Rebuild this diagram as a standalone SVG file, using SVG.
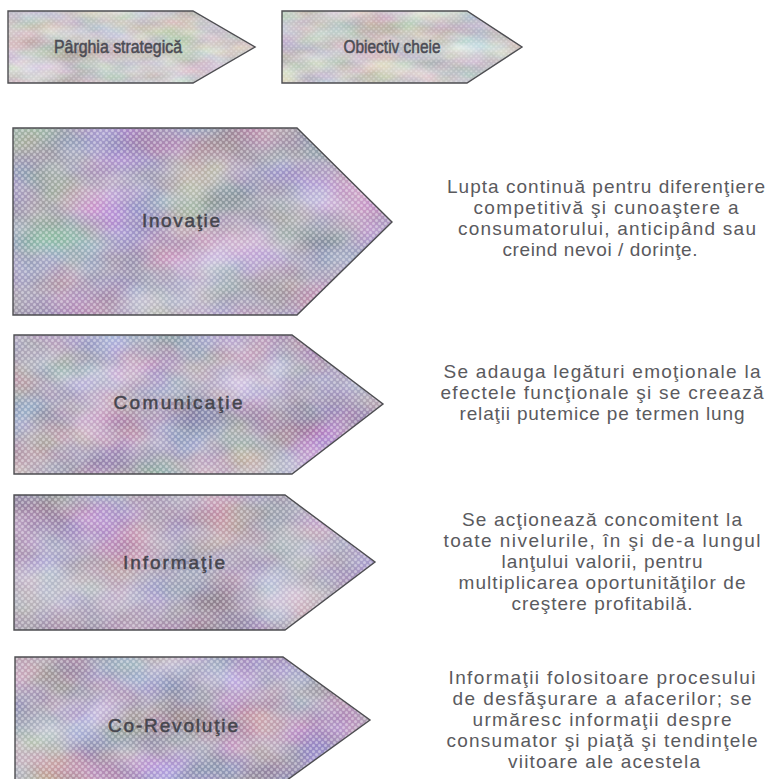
<svg xmlns="http://www.w3.org/2000/svg" width="774" height="779" viewBox="0 0 774 779">
  <defs>
    <!-- muted, mottled pastel fill for the large chevrons -->
    <filter id="mottleDark" x="0" y="0" width="100%" height="100%" color-interpolation-filters="sRGB">
      <feTurbulence type="fractalNoise" baseFrequency="0.012 0.018" numOctaves="3" seed="4" result="n"/>
      <feColorMatrix in="n" type="matrix" values="0.42 0.1 0.1 0 0.40  0.1 0.4 0.1 0 0.37  0.1 0.1 0.42 0 0.45  0 0 0 0 1"/>
      <feComposite in2="SourceGraphic" operator="in"/>
    </filter>
    <filter id="mottleDark2" x="0" y="0" width="100%" height="100%" color-interpolation-filters="sRGB">
      <feTurbulence type="fractalNoise" baseFrequency="0.014 0.02" numOctaves="3" seed="11" result="n"/>
      <feColorMatrix in="n" type="matrix" values="0.42 0.1 0.1 0 0.40  0.1 0.4 0.1 0 0.37  0.1 0.1 0.42 0 0.45  0 0 0 0 1"/>
      <feComposite in2="SourceGraphic" operator="in"/>
    </filter>
    <!-- lighter, greyer fill for the header chevrons -->
    <filter id="mottleLight" x="0" y="0" width="100%" height="100%" color-interpolation-filters="sRGB">
      <feTurbulence type="fractalNoise" baseFrequency="0.02 0.05" numOctaves="3" seed="7" result="n"/>
      <feColorMatrix in="n" type="matrix" values="0.3 0.08 0.08 0 0.55  0.08 0.3 0.08 0 0.54  0.08 0.08 0.3 0 0.54  0 0 0 0 1"/>
      <feComposite in2="SourceGraphic" operator="in"/>
    </filter>
    <!-- halftone dot screen laid over the fills -->
    <pattern id="dots" width="6" height="6" patternUnits="userSpaceOnUse">
      <rect width="6" height="6" fill="#3a3045" fill-opacity="0.08"/>
      <circle cx="1.5" cy="1.5" r="1.5" fill="#ffffff" fill-opacity="0.4"/>
      <circle cx="4.5" cy="4.5" r="1.5" fill="#ffffff" fill-opacity="0.4"/>
    </pattern>
    <pattern id="dotsLight" width="5" height="5" patternUnits="userSpaceOnUse">
      <circle cx="1.25" cy="1.25" r="1.1" fill="#ffffff" fill-opacity="0.3"/>
      <circle cx="3.75" cy="3.75" r="1.1" fill="#ffffff" fill-opacity="0.3"/>
    </pattern>
  </defs>
  <style>
    .edge { fill: none; stroke: #4e4e52; stroke-width: 1.4; stroke-linejoin: miter; }
    .hdr { font-family: "Liberation Sans", Arial, sans-serif; font-size: 18px; fill: #4c4c54; stroke: #4c4c54; stroke-width: 0.5; text-anchor: middle; }
    .lbl { font-family: "Liberation Sans", Arial, sans-serif; font-size: 19px; fill: #46464e; stroke: #46464e; stroke-width: 0.5; text-anchor: middle; }
    .desc { font-family: "Liberation Sans", Arial, sans-serif; font-size: 19px; fill: #5a5a5e; text-anchor: middle; }
  </style>

  <rect width="774" height="779" fill="#ffffff"/>

  <!-- header chevrons -->
  <g id="hdr-parghia">
    <path d="M8,11 H193 L255,47 L193,83 H8 Z" fill="#ccc" filter="url(#mottleLight)"/>
    <path d="M8,11 H193 L255,47 L193,83 H8 Z" fill="url(#dotsLight)"/>
    <path d="M8,11 H193 L255,47 L193,83 H8 Z" class="edge"/>
    <text class="hdr" x="118" y="53" textLength="128" lengthAdjust="spacingAndGlyphs">Pârghia strategică</text>
  </g>
  <g id="hdr-obiectiv">
    <path d="M282,11 H467 L522,47 L467,83 H282 Z" fill="#ccc" filter="url(#mottleLight)"/>
    <path d="M282,11 H467 L522,47 L467,83 H282 Z" fill="url(#dotsLight)"/>
    <path d="M282,11 H467 L522,47 L467,83 H282 Z" class="edge"/>
    <text class="hdr" x="392" y="53" textLength="97" lengthAdjust="spacingAndGlyphs">Obiectiv cheie</text>
  </g>

  <!-- lever: Inovaţie -->
  <g id="inovatie">
    <path d="M13,128 H297 L392,222 L297,315 H13 Z" fill="#aaa" filter="url(#mottleDark)"/>
    <path d="M13,128 H297 L392,222 L297,315 H13 Z" fill="url(#dots)"/>
    <path d="M13,128 H297 L392,222 L297,315 H13 Z" class="edge"/>
    <text class="lbl" x="181" y="227" textLength="78">Inovaţie</text>
  </g>
  <g id="inovatie-obiectiv">
    <text class="desc" x="606" y="193" textLength="318">Lupta continuă pentru diferenţiere</text>
    <text class="desc" x="606" y="214" textLength="265">competitivă şi cunoaştere a</text>
    <text class="desc" x="607" y="235" textLength="298">consumatorului, anticipând sau</text>
    <text class="desc" x="600" y="256" textLength="195">creind nevoi / dorinţe.</text>
  </g>

  <!-- lever: Comunicaţie -->
  <g id="comunicatie">
    <path d="M14,335 H292 L383,404 L292,474 H14 Z" fill="#aaa" filter="url(#mottleDark2)"/>
    <path d="M14,335 H292 L383,404 L292,474 H14 Z" fill="url(#dots)"/>
    <path d="M14,335 H292 L383,404 L292,474 H14 Z" class="edge"/>
    <text class="lbl" x="178" y="409" textLength="129">Comunicaţie</text>
  </g>
  <g id="comunicatie-obiectiv">
    <text class="desc" x="602" y="378" textLength="317">Se adauga legături emoţionale la</text>
    <text class="desc" x="602" y="399" textLength="323">efectele funcţionale şi se creează</text>
    <text class="desc" x="602" y="420" textLength="285">relaţii putemice pe termen lung</text>
  </g>

  <!-- lever: Informaţie -->
  <g id="informatie">
    <path d="M14,495 H285 L375,562 L285,630 H14 Z" fill="#aaa" filter="url(#mottleDark)"/>
    <path d="M14,495 H285 L375,562 L285,630 H14 Z" fill="url(#dots)"/>
    <path d="M14,495 H285 L375,562 L285,630 H14 Z" class="edge"/>
    <text class="lbl" x="174" y="569" textLength="102">Informaţie</text>
  </g>
  <g id="informatie-obiectiv">
    <text class="desc" x="602" y="526" textLength="280">Se acţionează concomitent la</text>
    <text class="desc" x="602" y="547" textLength="317">toate nivelurile, în şi de-a lungul</text>
    <text class="desc" x="602" y="568" textLength="201">lanţului valorii, pentru</text>
    <text class="desc" x="602" y="589" textLength="287">multiplicarea oportunităţilor de</text>
    <text class="desc" x="602" y="610" textLength="181">creştere profitabilă.</text>
  </g>

  <!-- lever: Co-Revoluţie -->
  <g id="co-revolutie">
    <path d="M15,657 H283 L370,720 L283,783 H15 Z" fill="#aaa" filter="url(#mottleDark2)"/>
    <path d="M15,657 H283 L370,720 L283,783 H15 Z" fill="url(#dots)"/>
    <path d="M15,657 H283 L370,720 L283,783 H15 Z" class="edge"/>
    <text class="lbl" x="173" y="732" textLength="130">Co-Revoluţie</text>
  </g>
  <g id="co-revolutie-obiectiv">
    <text class="desc" x="602" y="684" textLength="307">Informaţii folositoare procesului</text>
    <text class="desc" x="602" y="705" textLength="299">de desfăşurare a afacerilor; se</text>
    <text class="desc" x="602" y="726" textLength="259">urmăresc informaţii despre</text>
    <text class="desc" x="602" y="747" textLength="311">consumator şi piaţă şi tendinţele</text>
    <text class="desc" x="604" y="768" textLength="192">viitoare ale acestela</text>
  </g>
</svg>
